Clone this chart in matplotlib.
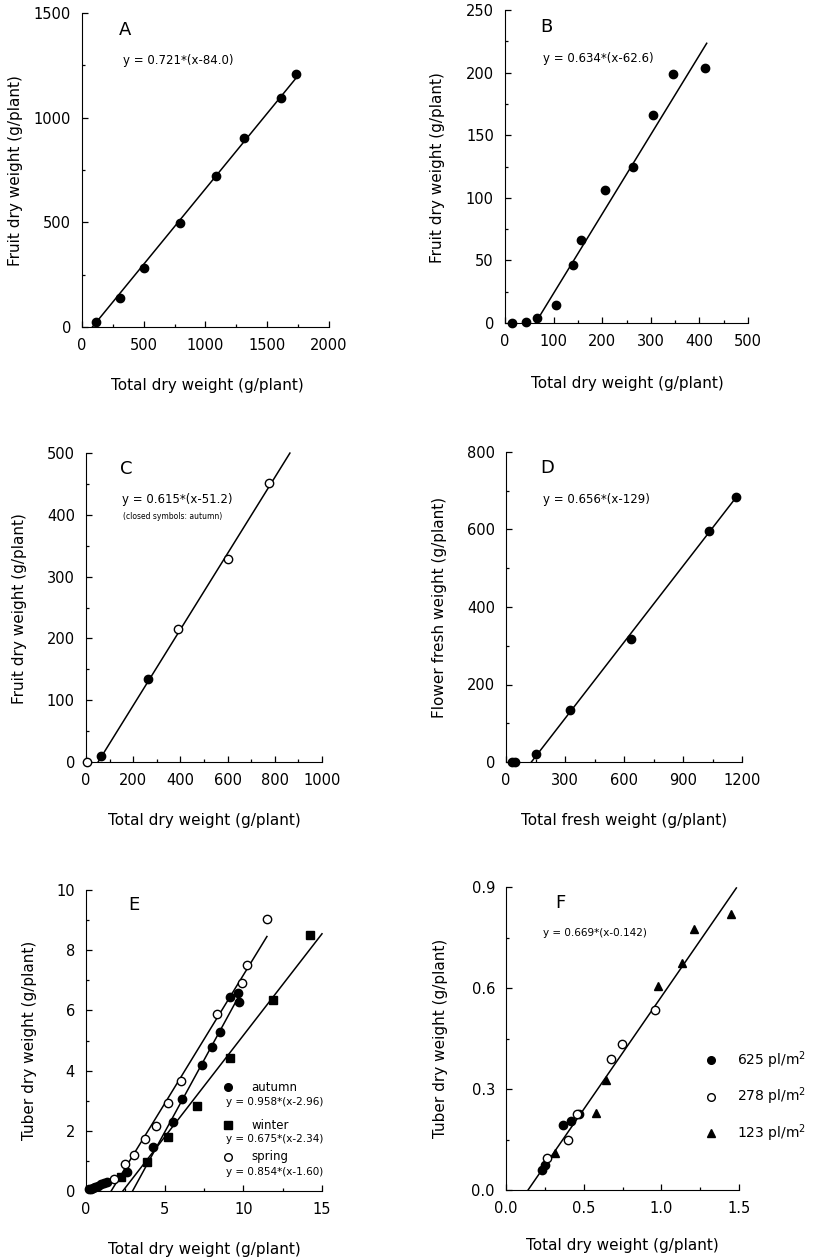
import matplotlib
matplotlib.use("Agg")
import matplotlib.pyplot as plt
from matplotlib.ticker import MultipleLocator, FormatStrFormatter
import numpy as np

plt.rcParams['font.family'] = ['DejaVu Sans']

# ---- panel A: fruit vs total dry weight
a_x = [113, 304, 503, 794, 1082, 1314, 1610, 1736]
a_y = [22, 139, 281, 498, 721, 905, 1095, 1209]
a_fit = (0.721, 84.0, 1740)   # slope, x-intercept, end of line

# ---- panel B
b_x = [14, 43, 65, 104, 140, 156, 206, 264, 305, 346, 411]
b_y = [0, 1, 4, 14, 46, 66, 106, 125, 166, 199, 204]
b_fit = (0.634, 62.6, 415)

# ---- panel C (closed = autumn, open = other)
c_closed_x = [62, 264]
c_closed_y = [10, 135]
c_open_x = [6, 389, 601, 774]
c_open_y = [0, 215, 329, 452]
c_fit = (0.615, 51.2, 864)

# ---- panel D: flower vs total fresh weight
d_x = [29, 48, 151, 326, 634, 1034, 1170]
d_y = [0, 0, 21, 133, 318, 595, 684]
d_fit = (0.656, 129, 1170)

# ---- panel E: tuber, three seasons
e_autumn_x = [0.2, 0.3, 0.45, 0.6, 0.75, 0.95, 1.15, 1.35, 2.59, 4.29, 5.5,
              6.11, 7.39, 7.98, 8.54, 9.17, 9.66, 9.70]
e_autumn_y = [0.05, 0.07, 0.1, 0.13, 0.17, 0.22, 0.26, 0.3, 0.62, 1.45, 2.3,
              3.05, 4.2, 4.8, 5.28, 6.43, 6.58, 6.28]
e_winter_x = [2.2, 3.86, 5.24, 7.05, 9.13, 11.87, 14.25]
e_winter_y = [0.45, 0.98, 1.78, 2.83, 4.42, 6.36, 8.5]
e_spring_x = [1.8, 2.45, 3.08, 3.78, 4.42, 5.24, 6.05, 8.34, 9.92, 10.23, 11.51]
e_spring_y = [0.4, 0.9, 1.2, 1.72, 2.15, 2.92, 3.65, 5.88, 6.9, 7.5, 9.05]
e_fit_autumn = (0.958, 2.96, 9.7)
e_fit_winter = (0.675, 2.34, 15.0)
e_fit_spring = (0.854, 1.60, 11.5)

# ---- panel F: three plant densities
f_625_x = [0.23, 0.251, 0.369, 0.419, 0.47]
f_625_y = [0.059, 0.074, 0.193, 0.205, 0.225]
f_278_x = [0.262, 0.401, 0.455, 0.675, 0.744, 0.962]
f_278_y = [0.094, 0.148, 0.226, 0.39, 0.433, 0.534]
f_123_x = [0.316, 0.577, 0.643, 0.979, 1.136, 1.211, 1.45]
f_123_y = [0.109, 0.228, 0.326, 0.605, 0.675, 0.774, 0.819]
f_fit = (0.669, 0.142, 1.483)

W, H = 817, 1259
fig = plt.figure(figsize=(W / 100, H / 100), dpi=100)


def make_ax(l, r, t, b):
    ax = fig.add_axes([l / W, 1 - b / H, (r - l) / W, (b - t) / H])
    ax.spines['top'].set_visible(False)
    ax.spines['right'].set_visible(False)
    ax.tick_params(which='both', direction='in', labelsize=10.5, width=0.9)
    ax.tick_params(which='major', length=4, pad=8)
    ax.tick_params(which='minor', length=2)
    return ax


def fit_line(ax, fit):
    k, x0, x1 = fit
    xs = np.array([x0, x1])
    ax.plot(xs, k * (xs - x0), color='black', lw=1.1, clip_on=False)


def style(ax, xmax, xstep, ymax, ystep, xlab, ylab, xlc, ylc):
    ax.set_xlim(0, xmax)
    ax.set_ylim(0, ymax)
    ax.xaxis.set_major_locator(MultipleLocator(xstep))
    ax.xaxis.set_minor_locator(MultipleLocator(xstep / 2))
    ax.yaxis.set_major_locator(MultipleLocator(ystep))
    ax.yaxis.set_minor_locator(MultipleLocator(ystep / 2))
    ax.set_xlabel(xlab, fontsize=11)
    ax.set_ylabel(ylab, fontsize=11)
    ax.xaxis.set_label_coords(xlc[0], xlc[1])
    ax.yaxis.set_label_coords(ylc[0], ylc[1])


dot = dict(color='black', ls='none', clip_on=False, zorder=3)
tdw = 'Total dry weight (g/plant)'

# A
ax = make_ax(82, 329, 13, 327)
fit_line(ax, a_fit)
ax.plot(a_x, a_y, marker='o', ms=6, **dot)
style(ax, 2000, 500, 1500, 500, tdw, 'Fruit dry weight (g/plant)', (0.506, -0.162), (-0.239, 0.497))
ax.text(0.174, 0.946, 'A', transform=ax.transAxes, fontsize=13, ha='center', va='center')
ax.text(0.166, 0.85, 'y = 0.721*(x-84.0)', transform=ax.transAxes, fontsize=8.5, va='center')

# B
ax = make_ax(505, 748, 10, 323)
fit_line(ax, b_fit)
ax.plot(b_x, b_y, marker='o', ms=6, **dot)
style(ax, 500, 100, 250, 50, tdw, 'Fruit dry weight (g/plant)', (0.502, -0.169), (-0.247, 0.497))
ax.text(0.172, 0.947, 'B', transform=ax.transAxes, fontsize=13, ha='center', va='center')
ax.text(0.155, 0.846, 'y = 0.634*(x-62.6)', transform=ax.transAxes, fontsize=8.5, va='center')

# C
ax = make_ax(86, 322, 453, 762)
fit_line(ax, c_fit)
ax.plot(c_closed_x, c_closed_y, marker='o', ms=6, **dot)
ax.plot(c_open_x, c_open_y, marker='o', ms=6, mfc='white', mew=1.0, **dot)
style(ax, 1000, 200, 500, 100, tdw, 'Fruit dry weight (g/plant)', (0.5, -0.164), (-0.251, 0.497))
ax.text(0.169, 0.947, 'C', transform=ax.transAxes, fontsize=13, ha='center', va='center')
ax.text(0.151, 0.848, 'y = 0.615*(x-51.2)', transform=ax.transAxes, fontsize=8.5, va='center')
ax.text(0.158, 0.794, '(closed symbols: autumn)', transform=ax.transAxes, fontsize=5.5, va='center')

# D
ax = make_ax(506, 742, 452, 762)
fit_line(ax, d_fit)
ax.plot(d_x, d_y, marker='o', ms=6, **dot)
style(ax, 1200, 300, 800, 200, 'Total fresh weight (g/plant)', 'Flower fresh weight (g/plant)',
      (0.5, -0.165), (-0.249, 0.497))
ax.text(0.175, 0.949, 'D', transform=ax.transAxes, fontsize=13, ha='center', va='center')
ax.text(0.155, 0.847, 'y = 0.656*(x-129)', transform=ax.transAxes, fontsize=8.5, va='center')

# E
ax = make_ax(86, 322, 890, 1191)
fit_line(ax, e_fit_autumn)
fit_line(ax, e_fit_winter)
fit_line(ax, e_fit_spring)
ax.plot(e_autumn_x, e_autumn_y, marker='o', ms=6, **dot)
ax.plot(e_winter_x, e_winter_y, marker='s', ms=6, **dot)
ax.plot(e_spring_x, e_spring_y, marker='o', ms=6, mfc='white', mew=1.0, **dot)
style(ax, 15, 5, 10, 2, tdw, 'Tuber dry weight (g/plant)', (0.5, -0.168), (-0.209, 0.5))
ax.text(0.203, 0.95, 'E', transform=ax.transAxes, fontsize=13, ha='center', va='center')
leg_e = [('o', 'black', 'autumn', 'y = 0.958*(x-2.96)', 0.345, 0.295),
         ('s', 'black', 'winter', 'y = 0.675*(x-2.34)', 0.219, 0.172),
         ('o', 'white', 'spring', 'y = 0.854*(x-1.60)', 0.114, 0.064)]
for mk, fc, name, eq, ym, ye in leg_e:
    ax.plot([0.603], [ym], marker=mk, ms=5.5, mfc=fc, mec='black', mew=1.0,
            transform=ax.transAxes, clip_on=False)
    ax.text(0.70, ym, name, transform=ax.transAxes, fontsize=8.5, va='center')
    ax.text(0.595, ye, eq, transform=ax.transAxes, fontsize=7.5, va='center')

# F
ax = make_ax(506, 739, 887, 1190)
fit_line(ax, f_fit)
ax.plot(f_625_x, f_625_y, marker='o', ms=6, **dot)
ax.plot(f_278_x, f_278_y, marker='o', ms=6, mfc='white', mew=1.0, **dot)
ax.plot(f_123_x, f_123_y, marker='^', ms=6, **dot)
style(ax, 1.5, 0.5, 0.9, 0.3, tdw, 'Tuber dry weight (g/plant)', (0.5, -0.159), (-0.248, 0.5))
ax.xaxis.set_major_formatter(FormatStrFormatter('%.1f'))
ax.yaxis.set_major_formatter(FormatStrFormatter('%.1f'))
ax.text(0.232, 0.946, 'F', transform=ax.transAxes, fontsize=13, ha='center', va='center')
ax.text(0.157, 0.849, 'y = 0.669*(x-0.142)', transform=ax.transAxes, fontsize=7.5, va='center')
leg_f = [('o', 'black', '625 pl/m$^2$', 0.429),
         ('o', 'white', '278 pl/m$^2$', 0.308),
         ('^', 'black', '123 pl/m$^2$', 0.187)]
for mk, fc, name, ym in leg_f:
    ax.plot([0.878], [ym], marker=mk, ms=5.5, mfc=fc, mec='black', mew=1.0,
            transform=ax.transAxes, clip_on=False)
    ax.text(0.99, ym, name, transform=ax.transAxes, fontsize=10, va='center')

fig.savefig('out.png', dpi=100)
